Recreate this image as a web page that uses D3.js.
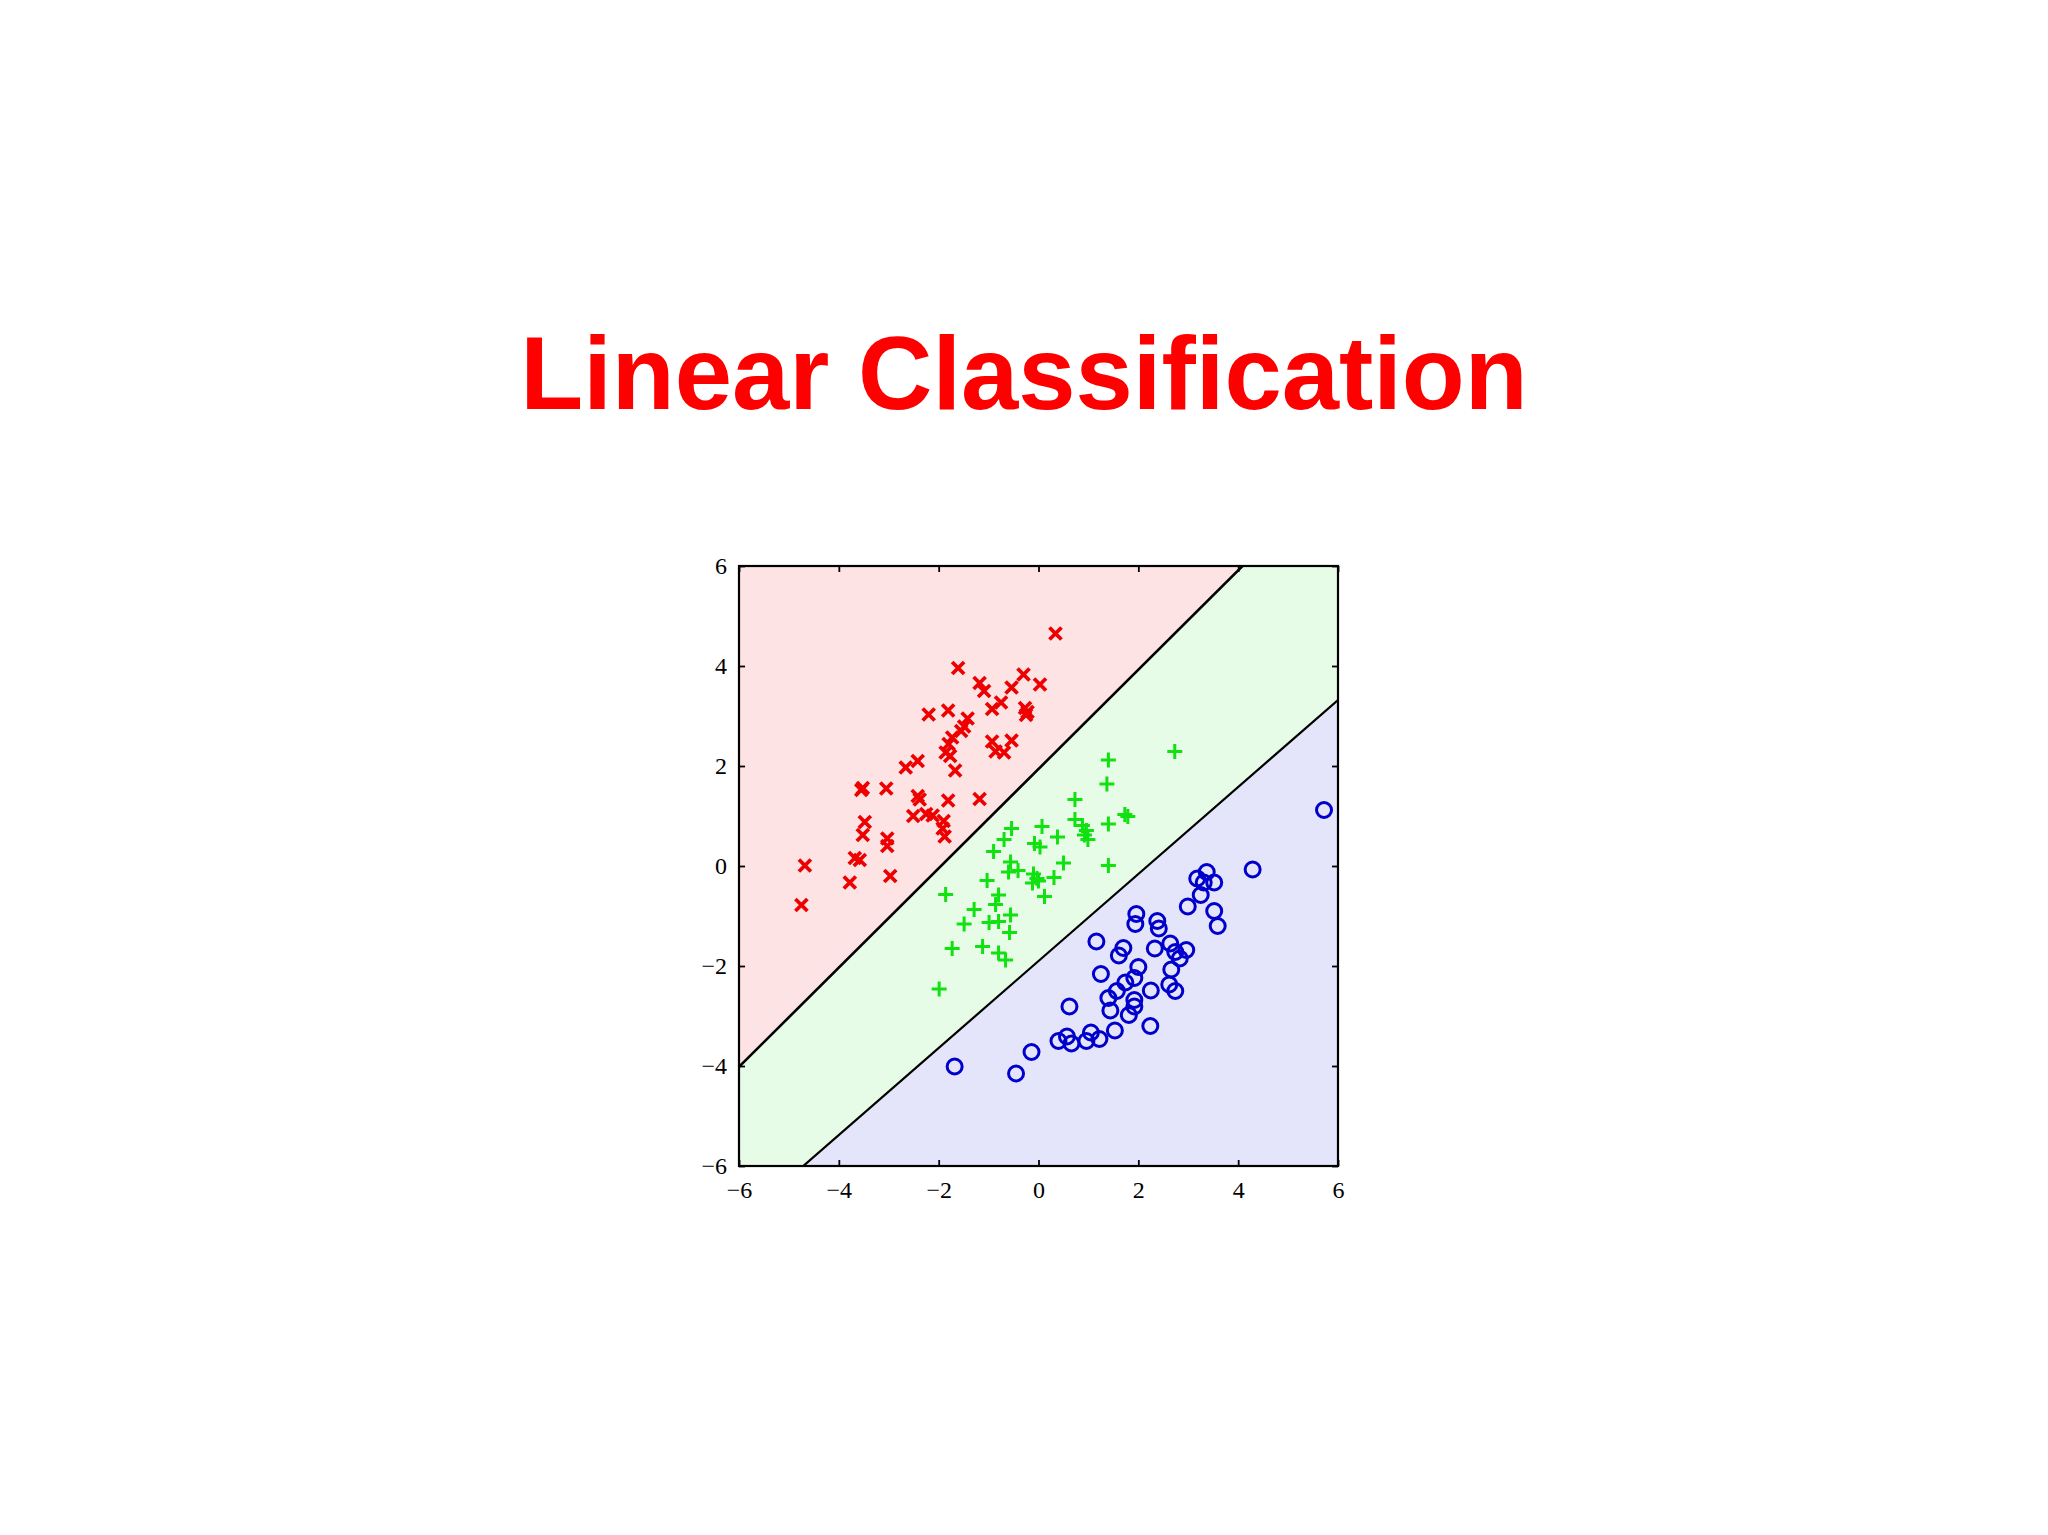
<!DOCTYPE html>
<html>
<head>
<meta charset="utf-8">
<script src="https://cdn.jsdelivr.net/npm/d3@7"></script>
<style>
body { margin: 0; background: #fff; }
svg { display: block; }
</style>
</head>
<body>
<script>
// class samples, [x, y]
var redPoints = [[0.34,4.65],[-1.61,3.96],[-1.18,3.66],[-1.09,3.50],[-0.30,3.83],[0.03,3.63],[-0.54,3.57],[-0.75,3.27],[-0.93,3.14],[-0.27,3.16],[-0.22,3.08],[-0.25,3.02],[-2.20,3.03],[-1.81,3.11],[-1.42,2.95],[-1.49,2.79],[-1.55,2.70],[-1.73,2.57],[-1.80,2.44],[-1.86,2.27],[-1.77,2.20],[-1.67,1.91],[-0.93,2.49],[-0.86,2.29],[-0.69,2.27],[-0.54,2.51],[-2.42,2.10],[-2.66,1.97],[-3.52,1.56],[-3.55,1.52],[-3.05,1.55],[-2.42,1.40],[-2.38,1.33],[-1.81,1.31],[-1.18,1.34],[-2.51,1.00],[-2.25,1.04],[-2.12,1.01],[-1.90,0.90],[-1.92,0.75],[-1.88,0.59],[-3.48,0.88],[-3.52,0.62],[-3.03,0.55],[-3.03,0.40],[-3.68,0.16],[-3.58,0.12],[-4.68,0.01],[-2.97,-0.20],[-3.78,-0.33],[-4.75,-0.78]];

var greenPoints = [[2.73,2.29],[1.40,2.12],[1.37,1.64],[0.73,1.33],[1.73,1.03],[1.79,0.99],[1.40,0.84],[0.73,0.93],[0.88,0.81],[0.96,0.71],[0.99,0.53],[0.92,0.62],[0.07,0.79],[0.38,0.58],[-0.54,0.75],[-0.69,0.53],[-0.08,0.45],[0.03,0.38],[-0.90,0.29],[0.50,0.06],[1.40,0.01],[-0.56,0.08],[-0.60,-0.12],[-0.41,-0.09],[-0.10,-0.16],[-0.03,-0.25],[-0.12,-0.34],[0.00,-0.30],[0.31,-0.23],[-1.03,-0.29],[0.12,-0.61],[-1.86,-0.57],[-0.80,-0.58],[-0.86,-0.77],[-1.29,-0.87],[-0.56,-0.98],[-0.99,-1.13],[-0.80,-1.11],[-1.49,-1.16],[-0.58,-1.33],[-1.73,-1.65],[-1.12,-1.61],[-0.80,-1.74],[-0.66,-1.88],[-1.99,-2.46]];

var bluePoints = [[5.72,1.12],[4.29,-0.07],[3.37,-0.12],[3.18,-0.25],[3.31,-0.33],[3.52,-0.33],[3.25,-0.58],[2.99,-0.81],[3.52,-0.90],[3.59,-1.20],[1.96,-0.96],[1.94,-1.16],[2.38,-1.10],[2.41,-1.25],[1.16,-1.51],[1.70,-1.64],[1.61,-1.79],[2.33,-1.65],[2.64,-1.55],[2.74,-1.72],[2.96,-1.68],[2.83,-1.85],[2.66,-2.07],[2.00,-2.02],[1.92,-2.24],[1.74,-2.33],[1.25,-2.16],[1.57,-2.50],[2.25,-2.49],[2.62,-2.37],[2.74,-2.50],[1.40,-2.64],[1.92,-2.68],[1.92,-2.81],[0.62,-2.81],[1.44,-2.89],[1.81,-2.98],[2.24,-3.20],[1.53,-3.29],[1.05,-3.33],[1.22,-3.46],[0.96,-3.50],[0.57,-3.41],[0.40,-3.50],[0.66,-3.55],[-0.14,-3.72],[-1.68,-4.01],[-0.45,-4.15]];

// decision lines y = slope*x + intercept
var boundaries = [[0.993, 1.94], [0.87, -1.90]];
var ticks = [-6, -4, -2, 0, 2, 4, 6];
var title = "Linear Classification";

var width = 2048, height = 1535;
var plot = {left: 739, top: 566, right: 1338, bottom: 1166};

var svg = d3.select("body").append("svg")
    .attr("width", width)
    .attr("height", height);

svg.append("rect").attr("width", width).attr("height", height).attr("fill", "#fff");

svg.append("text")
    .attr("x", 1024)
    .attr("y", 409)
    .attr("text-anchor", "middle")
    .attr("font-family", "'Liberation Sans', Arial, sans-serif")
    .attr("font-weight", "bold")
    .attr("font-size", "103px")
    .attr("fill", "#ff0000")
    .text(title);

var x = d3.scaleLinear().domain([-6, 6]).range([plot.left, plot.right]);
var y = d3.scaleLinear().domain([-6, 6]).range([plot.bottom, plot.top]);

svg.append("clipPath").attr("id", "clip")
  .append("rect")
    .attr("x", plot.left).attr("y", plot.top)
    .attr("width", plot.right - plot.left).attr("height", plot.bottom - plot.top);

var g = svg.append("g").attr("clip-path", "url(#clip)");

function lineY(b, xv) { return b[0] * xv + b[1]; }

var b0 = boundaries[0], b1 = boundaries[1];
var regions = [
  {fill: "#fde3e3", pts: [[-6, 20], [-6, lineY(b0, -6)], [6, lineY(b0, 6)], [6, 20]]},
  {fill: "#e6fce6", pts: [[-6, lineY(b0, -6)], [6, lineY(b0, 6)], [6, lineY(b1, 6)], [-6, lineY(b1, -6)]]},
  {fill: "#e4e4fa", pts: [[-6, lineY(b1, -6)], [6, lineY(b1, 6)], [6, -20], [-6, -20]]}
];

var poly = d3.line().x(function(d) { return x(d[0]); }).y(function(d) { return y(d[1]); });

g.selectAll(".region")
  .data(regions)
  .enter().append("path")
  .attr("class", "region")
  .attr("d", function(d) { return poly(d.pts) + "Z"; })
  .attr("fill", function(d) { return d.fill; });

g.selectAll(".boundary")
  .data(boundaries)
  .enter().append("line")
  .attr("class", "boundary")
  .attr("x1", x(-6)).attr("x2", x(6))
  .attr("y1", function(d) { return y(lineY(d, -6)); })
  .attr("y2", function(d) { return y(lineY(d, 6)); })
  .attr("stroke", "#000")
  .attr("stroke-width", function(d, i) { return i == 0 ? 2.6 : 2.2; });

// markers
g.selectAll(".cross")
  .data(redPoints)
  .enter().append("path")
  .attr("class", "cross")
  .attr("transform", function(d) { return "translate(" + x(d[0]) + "," + y(d[1]) + ")"; })
  .attr("d", "M-6,-6L6,6M-6,6L6,-6")
  .attr("stroke", "#ee0000")
  .attr("stroke-width", 3.8)
  .attr("fill", "none");

g.selectAll(".plus")
  .data(greenPoints)
  .enter().append("path")
  .attr("class", "plus")
  .attr("transform", function(d) { return "translate(" + x(d[0]) + "," + y(d[1]) + ")"; })
  .attr("d", "M-7.5,0L7.5,0M0,-7.5L0,7.5")
  .attr("stroke", "#11e011")
  .attr("stroke-width", 3)
  .attr("fill", "none");

g.selectAll(".ring")
  .data(bluePoints)
  .enter().append("circle")
  .attr("class", "ring")
  .attr("cx", function(d) { return x(d[0]); })
  .attr("cy", function(d) { return y(d[1]); })
  .attr("r", 7.5)
  .attr("stroke", "#0000cc")
  .attr("stroke-width", 3)
  .attr("fill", "none");

// axes, ticks inward like the original
var tickFont = "'Liberation Serif', 'Times New Roman', serif";

function styleAxis(sel) {
  sel.select(".domain").remove();
  sel.selectAll(".tick line").attr("stroke", "#000").attr("stroke-width", 1.8);
  sel.selectAll(".tick text").attr("font-family", tickFont).attr("font-size", "24px").attr("fill", "#000");
}

svg.append("g")
  .attr("transform", "translate(0," + plot.bottom + ")")
  .call(d3.axisBottom(x).tickValues(ticks).tickSize(-6).tickPadding(15))
  .call(styleAxis);

svg.append("g")
  .attr("transform", "translate(" + plot.left + ",0)")
  .call(d3.axisLeft(y).tickValues(ticks).tickSize(-6).tickPadding(12))
  .call(styleAxis);

svg.append("g")
  .attr("transform", "translate(0," + plot.top + ")")
  .call(d3.axisTop(x).tickValues(ticks).tickSize(-6).tickFormat(""))
  .call(styleAxis);

svg.append("g")
  .attr("transform", "translate(" + plot.right + ",0)")
  .call(d3.axisRight(y).tickValues(ticks).tickSize(-6).tickFormat(""))
  .call(styleAxis);

svg.append("rect")
  .attr("x", plot.left).attr("y", plot.top)
  .attr("width", plot.right - plot.left).attr("height", plot.bottom - plot.top)
  .attr("fill", "none")
  .attr("stroke", "#000")
  .attr("stroke-width", 2.2);
</script>
</body>
</html>
